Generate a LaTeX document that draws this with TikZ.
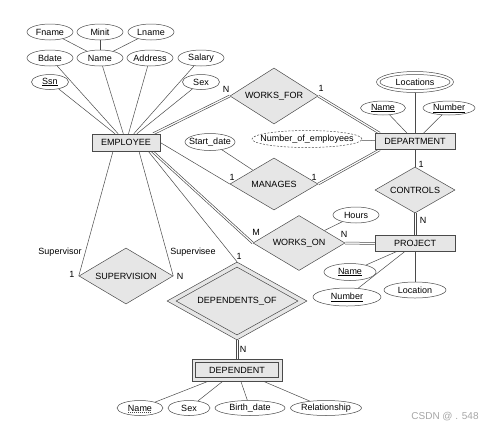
\documentclass[tikz,border=0pt]{standalone}
\usepackage{fontspec}
\setmainfont{Liberation Sans}
\usetikzlibrary{shapes.geometric,backgrounds,calc}
\definecolor{ln}{HTML}{4A4A4A}
\definecolor{fl}{HTML}{E6E6E6}
\newcommand\zb[1]{\makebox[0pt]{#1}}
\newcommand\dline[2]{%
  \draw[con] ($(#1)!1pt!90:(#2)$) -- ($(#2)!1pt!-90:(#1)$);
  \draw[con] ($(#1)!1pt!-90:(#2)$) -- ($(#2)!1pt!90:(#1)$);}
\begin{document}
\begin{tikzpicture}[x=1pt,y=1pt,font=\fontsize{9}{10}\selectfont,
  ent/.style={draw=ln,fill=fl,rectangle,inner sep=0pt,line width=0.5pt},
  att/.style={draw=ln,fill=white,ellipse,inner sep=0pt,line width=0.5pt,minimum width=46pt,minimum height=16pt},
  rel/.style={draw=ln,fill=fl,diamond,inner sep=0pt,line width=0.5pt},
  con/.style={draw=ln,line width=0.5pt},
  lbl/.style={inner sep=0pt}]
\useasboundingbox (0,0) rectangle (498,-432);
% employee attributes
\node[att] (fname) at (50,-32) {\zb{Fname}};
\node[att] (minit) at (100,-32) {\zb{Minit}};
\node[att] (lname) at (151,-32) {\zb{Lname}};
\node[att] (bdate) at (50,-58) {\zb{Bdate}};
\node[att] (ename) at (100,-58) {\zb{Name}};
\node[att] (addr) at (150,-58) {\zb{Address}};
\node[att] (salary) at (201,-58) {\zb{Salary}};
\node[att,minimum width=37pt,minimum height=15pt] (ssn) at (50,-82) {\zb{\underline{Ssn}}};
\node[att,minimum width=37pt,minimum height=15pt] (esex) at (201,-82) {\zb{Sex}};
\node[ent,minimum width=68pt,minimum height=17pt] (emp) at (126,-142.5) {EMPLOYEE};
% works for
\node[rel,minimum width=88pt,minimum height=56pt] (wf) at (274,-96) {\zb{WORKS\_FOR}};
% department
\node[att,minimum width=77pt,minimum height=21pt] (loco) at (415,-82) {};
\node[att,minimum width=70pt,minimum height=15pt] (loc) at (415,-82) {\zb{Locations}};
\node[att,minimum width=45pt,minimum height=14pt] (dname) at (383,-108) {\zb{\underline{Name}}};
\node[att,minimum width=52pt,minimum height=14pt] (dnum) at (449,-108) {\zb{\underline{Number}}};
\node[att,dash pattern=on 2pt off 1.5pt,minimum width=110pt,minimum height=17pt] (noe) at (307,-139) {\zb{Number\_of\_employees}};
\node[ent,minimum width=80pt,minimum height=16pt] (dept) at (415,-141.5) {DEPARTMENT};
% manages
\node[att,minimum width=50pt,minimum height=17pt] (sdate) at (210,-142) {\zb{Start\_date}};
\node[rel,minimum width=88pt,minimum height=52pt] (man) at (274,-184) {\zb{MANAGES}};
\node[rel,minimum width=80pt,minimum height=46pt] (ctl) at (415,-190) {\zb{CONTROLS}};
% works on / project
\node[att,minimum width=46pt,minimum height=16pt] (hours) at (356,-215) {\zb{Hours}};
\node[rel,minimum width=92pt,minimum height=55pt] (won) at (299,-243) {\zb{WORKS\_ON}};
\node[ent,minimum width=80pt,minimum height=16pt] (prj) at (415,-243.5) {PROJECT};
\node[att,minimum width=52pt,minimum height=17pt] (pname) at (350,-272) {\zb{\underline{Name}}};
\node[att,minimum width=68pt,minimum height=18pt] (pnum) at (347,-297) {\zb{\underline{Number}}};
\node[att,minimum width=62pt,minimum height=16pt] (ploc) at (415,-290) {\zb{Location}};
% supervision
\node[rel,minimum width=94pt,minimum height=56pt] (sup) at (126,-276) {\zb{SUPERVISION}};
% dependents
\node[rel,minimum width=140pt,minimum height=78pt] (dofo) at (237,-301) {};
\node[rel,minimum width=122pt,minimum height=68pt] (dof) at (237,-301) {\zb{DEPENDENTS\_OF}};
\node[ent,minimum width=90pt,minimum height=22pt] (dpto) at (237,-370) {};
\node[ent,minimum width=83pt,minimum height=15pt] (dpt) at (237,-370) {DEPENDENT};
\node[att,minimum width=46pt,minimum height=15pt] (dpname) at (140,-408) {\zb{Name}};
\draw[ln,line width=0.5pt,dash pattern=on 1pt off 1pt] ([xshift=-12pt,yshift=-1.6pt]dpname.base) -- ([xshift=12pt,yshift=-1.6pt]dpname.base);
\node[att,minimum width=42pt,minimum height=15pt] (dpsex) at (189,-408) {\zb{Sex}};
\node[att,minimum width=70pt,minimum height=15pt] (bd) at (250,-408) {\zb{Birth\_date}};
\node[att,minimum width=71pt,minimum height=15pt] (relsh) at (326,-408) {\zb{Relationship}};
% labels
\node[lbl] (l1) at (226,-89) {N};
\node[lbl] (l2) at (321,-88) {1};
\node[lbl] (l3) at (232,-177) {1};
\node[lbl] (l4) at (314,-177) {1};
\node[lbl] (l5) at (421,-164) {1};
\node[lbl] (l6) at (423,-220) {N};
\node[lbl] (l7) at (256,-232) {M};
\node[lbl] (l8) at (344,-234) {N};
\node[lbl] (l9) at (60,-252) {Supervisor};
\node[lbl] (l10) at (193,-252) {Supervisee};
\node[lbl] (l11) at (72,-274) {1};
\node[lbl] (l12) at (180,-276) {N};
\node[lbl] (l13) at (239,-256) {1};
\node[lbl] (l14) at (243,-349) {N};
\node[lbl,text=gray!70,font=\fontsize{10}{12}\selectfont] (wm) at (445,-417) {CSDN @ . 548};
% connector end points on entity borders
\coordinate (ewf) at ([xshift=-7pt]emp.north east);
\coordinate (ewo) at ([xshift=-8pt]emp.south east);
\coordinate (dwf) at ([xshift=5pt]dept.north west);
\coordinate (dma) at ([xshift=5pt]dept.south west);
\begin{scope}[on background layer]
\draw[con] (fname) -- (ename);
\draw[con] (minit) -- (ename);
\draw[con] (lname) -- (ename);
\draw[con] (bdate) -- (emp);
\draw[con] (ename) -- (emp);
\draw[con] (addr) -- (emp);
\draw[con] (salary) -- (emp);
\draw[con] (ssn) -- (emp);
\draw[con] (esex) -- (emp);
\dline{ewf}{wf.west}
\dline{wf.east}{dwf}
\draw[con] (loco) -- (dept);
\draw[con] (dname) -- (dept);
\draw[con] (dnum) -- (dept);
\draw[con] (noe) -- (dept);
\draw[con] (sdate) -- (man);
\draw[con] (emp.east) -- (man.west);
\dline{man.east}{dma}
\draw[con] (dept.south) -- (ctl.north);
\dline{ctl.south}{prj.north}
\dline{ewo}{won.west}
\draw[con] (hours) -- (won);
\dline{won.east}{prj.west}
\draw[con] (pname) -- (prj);
\draw[con] (pnum) -- (prj);
\draw[con] (ploc) -- (prj);
\draw[con] ([xshift=-13pt]emp.south) -- (sup.west);
\draw[con] ([xshift=13pt]emp.south) -- (sup.east);
\draw[con] ([xshift=-12pt]emp.south east) -- (dofo.north);
\dline{dofo.south}{dpto.north}
\draw[con] (dpname) -- (dpto);
\draw[con] (dpsex) -- (dpto);
\draw[con] (bd) -- (dpto);
\draw[con] (relsh) -- (dpto);
\end{scope}
\end{tikzpicture}
\end{document}
